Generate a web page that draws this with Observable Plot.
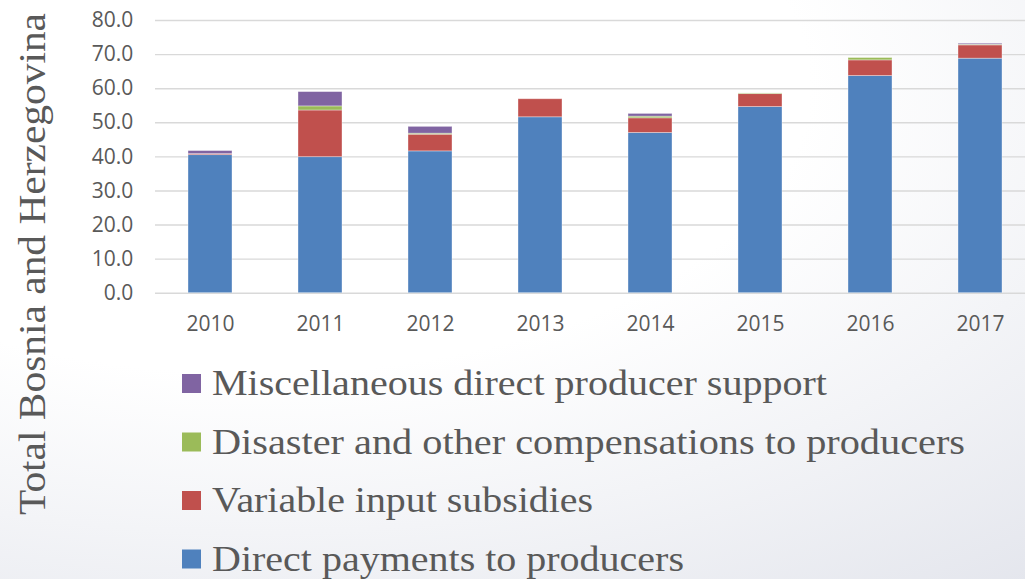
<!DOCTYPE html>
<html>
<head>
<meta charset="utf-8">
<script src="https://cdn.jsdelivr.net/npm/d3@7"></script>
<script src="https://cdn.jsdelivr.net/npm/@observablehq/plot@0.6"></script>
<style>
  html, body { margin: 0; padding: 0; }
  body {
    width: 1025px; height: 579px; overflow: hidden; position: relative;
    background: radial-gradient(ellipse 120% 110% at 25% 15%, #ffffff 45%, #f3f4f7 70%, #e4e6ed 100%);
  }
  #chart { position: absolute; left: 0; top: 0; }
  #legend { position: absolute; left: 0; top: 340px; }
  #ytitle { position: absolute; left: 0; top: 0; pointer-events: none; }
</style>
</head>
<body>
<div id="chart"></div>
<svg id="legend" width="1025" height="239"></svg>
<svg id="ytitle" width="100" height="579"></svg>
<script>
const years = ["2010", "2011", "2012", "2013", "2014", "2015", "2016", "2017"];
const directPayments = [40.5, 39.9, 41.6, 51.6, 47.0, 54.6, 63.7, 68.8];
const variableInput = [0.3, 13.7, 4.9, 5.3, 4.3, 3.8, 4.6, 3.9];
const disaster = [0.0, 1.2, 0.3, 0.0, 0.5, 0.2, 0.7, 0.2];
const misc = [0.9, 4.2, 2.0, 0.0, 0.8, 0.0, 0.0, 0.3];
const seriesNames = [
  "Direct payments to producers",
  "Variable input subsidies",
  "Disaster and other compensations to producers",
  "Miscellaneous direct producer support"
];
const seriesColors = ["#4F81BD", "#C0504D", "#9BBB59", "#8064A2"];
const yTicks = [0, 10, 20, 30, 40, 50, 60, 70, 80];
const yTitle = "Total Bosnia and Herzegovina";
const legendOrder = [3, 2, 1, 0];

const seriesValues = [directPayments, variableInput, disaster, misc];
const data = [];
years.forEach((yr, i) => {
  seriesValues.forEach((vals, s) => {
    data.push({year: yr, series: seriesNames[s], value: vals[i]});
  });
});

const textColor = "#595959";

const plot = Plot.plot({
  width: 1025,
  height: 340,
  marginTop: 20,
  marginBottom: 47.3,
  marginLeft: 155,
  marginRight: 0,
  style: {fontFamily: "'Open Sans', sans-serif", fontSize: "21px", color: textColor, background: "transparent", overflow: "visible"},
  x: {domain: years, range: [155, 1035], paddingInner: 0.6, paddingOuter: 0.3, round: false},
  y: {domain: [0, 80]},
  color: {domain: seriesNames, range: seriesColors},
  marks: [
    Plot.ruleY(yTicks, {stroke: "#d9d9d9", strokeWidth: 1.4}),
    Plot.barY(data, {x: "year", y: "value", fill: "series", stroke: "#ffffff", strokeOpacity: 0.45, strokeWidth: 0.8}),
    Plot.axisX({tickSize: 0, tickPadding: 23, fontSize: 21, label: null}),
    Plot.axisY({ticks: yTicks, tickSize: 0, tickPadding: 22.3, tickFormat: d3.format(".1f"), fontSize: 21, label: null})
  ]
});
document.getElementById("chart").appendChild(plot);

// Legend (below the plot)
const legendLengths = [615, 753, 381, 472];
const leg = d3.select("#legend");
legendOrder.forEach((s, k) => {
  const cy = 43.5 + k * 58.5;
  leg.append("rect")
    .attr("x", 182).attr("y", cy - 9.5).attr("width", 19).attr("height", 19)
    .attr("fill", seriesColors[s]);
  leg.append("text")
    .attr("x", 212).attr("y", cy + 11.5)
    .attr("font-family", "'Liberation Serif', 'DejaVu Serif', serif")
    .attr("font-size", 35)
    .attr("fill", textColor)
    .attr("textLength", legendLengths[k])
    .attr("lengthAdjust", "spacingAndGlyphs")
    .text(seriesNames[s]);
});

// Y title
d3.select("#ytitle").append("text")
  .attr("transform", "translate(45,264) rotate(-90)")
  .attr("text-anchor", "middle")
  .attr("font-family", "'Liberation Serif', 'DejaVu Serif', serif")
  .attr("font-size", 37)
  .attr("fill", textColor)
  .attr("textLength", 502)
  .attr("lengthAdjust", "spacingAndGlyphs")
  .text(yTitle);
</script>
</body>
</html>
